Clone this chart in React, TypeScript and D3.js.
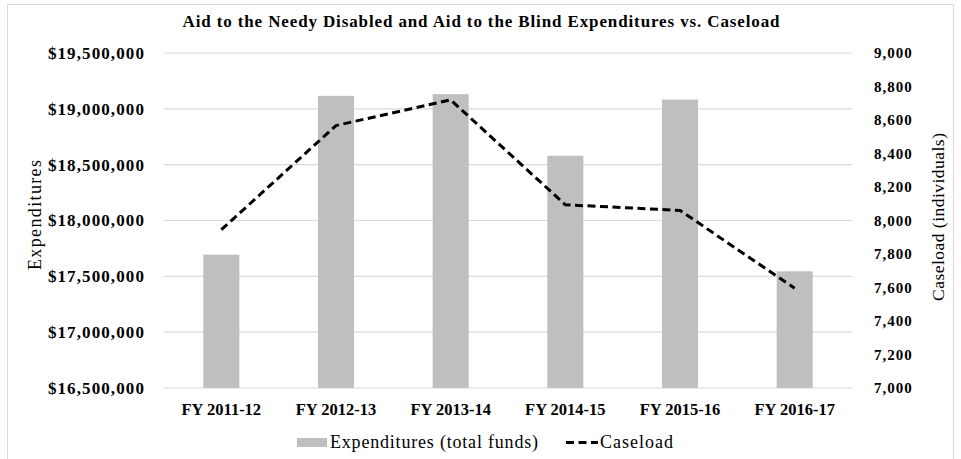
import React from "react";
import * as d3 from "d3";

const categories = ["FY 2011-12", "FY 2012-13", "FY 2013-14", "FY 2014-15", "FY 2015-16", "FY 2016-17"];
const expenditures = [17694000, 19116000, 19131000, 18580000, 19083000, 17545000];
const caseload = [7945, 8567, 8720, 8094, 8060, 7596];
const leftTicks = [16500000, 17000000, 17500000, 18000000, 18500000, 19000000, 19500000];
const rightTicks = [7000, 7200, 7400, 7600, 7800, 8000, 8200, 8400, 8600, 8800, 9000];

const W = 961;
const H = 459;
const M = { left: 164, right: 852, top: 53, bottom: 388 };
const FONT = "'Liberation Serif', 'Times New Roman', serif";

export default function App() {
  const x = d3.scaleBand<string>().domain(categories).range([M.left, M.right]).padding(0);
  const yL = d3.scaleLinear().domain([16500000, 19500000]).range([M.bottom, M.top]);
  const yR = d3.scaleLinear().domain([7000, 9000]).range([M.bottom, M.top]);
  const barW = x.bandwidth() * 0.314;
  const cx = (c: string) => (x(c) as number) + x.bandwidth() / 2;
  const fmtL = d3.format("$,");
  const fmtR = d3.format(",");
  const line = d3
    .line<number>()
    .x((_, i) => cx(categories[i]))
    .y((d) => yR(d));

  return (
    <svg
      width={W}
      height={H}
      style={{ position: "absolute", left: 0, top: 0, background: "#fff" }}
      fontFamily={FONT}
    >
      <rect x={7.5} y={4.5} width={946} height={470} fill="#fff" stroke="#d9d9d9" strokeWidth={1} />
      <text
        x={481}
        y={27}
        textAnchor="middle"
        fontWeight="bold"
        fontSize={17}
        textLength={597}
        lengthAdjust="spacing"
        fill="#000"
      >
        Aid to the Needy Disabled and Aid to the Blind Expenditures vs. Caseload
      </text>
      {leftTicks.map((t) => (
        <line key={"g" + t} x1={M.left} x2={M.right} y1={yL(t)} y2={yL(t)} stroke="#d9d9d9" strokeWidth={1.2} />
      ))}
      {expenditures.map((v, i) => (
        <rect
          key={"b" + i}
          x={cx(categories[i]) - barW / 2}
          y={yL(v)}
          width={barW}
          height={yL(16500000) - yL(v)}
          fill="#bfbfbf"
        />
      ))}
      <path d={line(caseload) || ""} fill="none" stroke="#000" strokeWidth={3} strokeDasharray="8,4.5" />
      {leftTicks.map((t) => (
        <text
          key={"l" + t}
          x={145}
          y={yL(t)}
          dy="0.35em"
          textAnchor="end"
          fontWeight="bold"
          fontSize={17}
          letterSpacing={1.1}
          fill="#000"
        >
          {fmtL(t)}
        </text>
      ))}
      {rightTicks.map((t) => (
        <text
          key={"r" + t}
          x={874}
          y={yR(t)}
          dy="0.35em"
          textAnchor="start"
          fontWeight="bold"
          fontSize={15}
          letterSpacing={1}
          fill="#000"
        >
          {fmtR(t)}
        </text>
      ))}
      {categories.map((c) => (
        <text key={"x" + c} x={cx(c)} y={415} textAnchor="middle" fontWeight="bold" fontSize={16.5} fill="#000">
          {c}
        </text>
      ))}
      <text
        transform={`translate(41,215) rotate(-90)`}
        textAnchor="middle"
        fontSize={18}
        textLength={110}
        lengthAdjust="spacing"
        fill="#000"
      >
        Expenditures
      </text>
      <text
        transform={`translate(944,217) rotate(-90)`}
        textAnchor="middle"
        fontSize={17.5}
        textLength={168}
        lengthAdjust="spacing"
        fill="#000"
      >
        Caseload (individuals)
      </text>
      <rect x={297} y={438} width={30} height={9} fill="#bfbfbf" />
      <text x={330} y={448} fontSize={18} textLength={208} lengthAdjust="spacing" fill="#000">
        Expenditures (total funds)
      </text>
      <line x1={566} x2={598} y1={442.5} y2={442.5} stroke="#000" strokeWidth={3} strokeDasharray="8,4.5" />
      <text x={600} y={448} fontSize={18} textLength={73} lengthAdjust="spacing" fill="#000">
        Caseload
      </text>
    </svg>
  );
}
